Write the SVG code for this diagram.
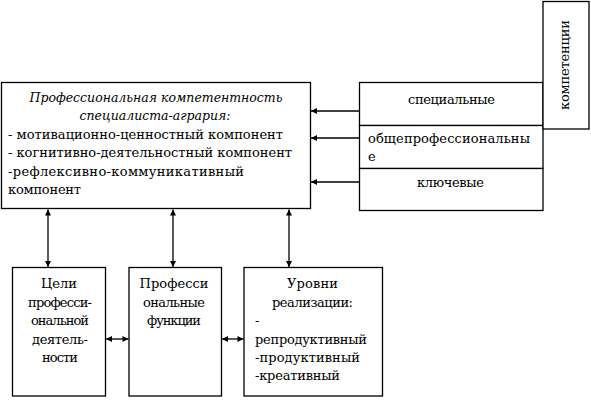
<svg xmlns="http://www.w3.org/2000/svg" width="591" height="411" viewBox="0 0 591 411">
<style>
  .b { fill: #fff; stroke: #000; stroke-width: 1.3; }
  text { font-family: "DejaVu Serif", "Liberation Serif", serif; font-size: 13px; fill: #000; }
  .i { font-style: italic; }
  .c { text-anchor: middle; }
  .ln { stroke: #000; stroke-width: 1.3; fill: none; }
</style>
<defs>
  <marker id="ah" viewBox="0 0 8 8" refX="8" refY="4" markerWidth="7" markerHeight="6" markerUnits="userSpaceOnUse" orient="auto-start-reverse">
    <path d="M0,0 L8,4 L0,8 z" fill="#000"/>
  </marker>
</defs>
<rect width="591" height="411" fill="#fff"/>

<g id="main">
  <rect class="b" x="1.5" y="82.5" width="309" height="126"/>
  <text class="i c" x="156" y="102" textLength="253" lengthAdjust="spacingAndGlyphs">Профессиональная компетентность</text>
  <text class="i c" x="155" y="120" textLength="151" lengthAdjust="spacingAndGlyphs">специалиста-агрария:</text>
  <text x="8" y="139" textLength="275" lengthAdjust="spacing">- мотивационно-ценностный компонент</text>
  <text x="8" y="157" textLength="284" lengthAdjust="spacing">- когнитивно-деятельностный компонент</text>
  <text x="8" y="176" textLength="236" lengthAdjust="spacing">-рефлексивно-коммуникативный</text>
  <text x="8" y="194" textLength="73" lengthAdjust="spacing">компонент</text>
</g>

<g id="special">
  <rect class="b" x="359.5" y="82.5" width="183.5" height="43"/>
  <text class="c" x="451.5" y="104" textLength="87" lengthAdjust="spacing">специальные</text>
</g>
<g id="general">
  <rect class="b" x="359.5" y="125.5" width="183.5" height="43"/>
  <text x="368" y="143" textLength="162" lengthAdjust="spacing">общепрофессиональны</text>
  <text x="368" y="161">е</text>
</g>
<g id="key">
  <rect class="b" x="359.5" y="168.5" width="183.5" height="42"/>
  <text class="c" x="450.5" y="187" textLength="67" lengthAdjust="spacing">ключевые</text>
</g>

<g id="competencies">
  <rect class="b" x="543" y="1.5" width="46" height="127.5"/>
  <text class="c" transform="translate(569,65) rotate(-90)" x="0" y="0" textLength="90" lengthAdjust="spacing">компетенции</text>
</g>

<g id="goals">
  <rect class="b" x="12.5" y="267.5" width="93" height="128.5"/>
  <text class="c" x="59" y="288">Цели</text>
  <text class="c" x="60" y="307" textLength="64" lengthAdjust="spacing">професси-</text>
  <text class="c" x="60" y="325" textLength="58" lengthAdjust="spacing">ональной</text>
  <text class="c" x="60" y="344" textLength="56" lengthAdjust="spacing">деятель-</text>
  <text class="c" x="60" y="362" textLength="36" lengthAdjust="spacing">ности</text>
</g>

<g id="functions">
  <rect class="b" x="129" y="267.5" width="92.5" height="128.5"/>
  <text class="c" x="174" y="288" textLength="69" lengthAdjust="spacing">Професси</text>
  <text class="c" x="174" y="307" textLength="62" lengthAdjust="spacing">ональные</text>
  <text class="c" x="174" y="325" textLength="54" lengthAdjust="spacing">функции</text>
</g>

<g id="levels">
  <rect class="b" x="244" y="267.5" width="138.5" height="128.5"/>
  <text class="c" x="312.5" y="288" textLength="51" lengthAdjust="spacing">Уровни</text>
  <text class="c" x="312.5" y="307" textLength="81" lengthAdjust="spacing">реализации:</text>
  <text x="255" y="325">-</text>
  <text x="255" y="344" textLength="112" lengthAdjust="spacing">репродуктивный</text>
  <text x="255" y="362" textLength="105" lengthAdjust="spacing">-продуктивный</text>
  <text x="255" y="380" textLength="85" lengthAdjust="spacing">-креативный</text>
</g>

<g id="connectors">
  <line class="ln" x1="359" y1="111" x2="311" y2="111" marker-end="url(#ah)"/>
  <line class="ln" x1="359" y1="138" x2="311" y2="138" marker-end="url(#ah)"/>
  <line class="ln" x1="359" y1="182" x2="311" y2="182" marker-end="url(#ah)"/>
  <line class="ln" x1="48" y1="209.5" x2="48" y2="267" marker-start="url(#ah)" marker-end="url(#ah)"/>
  <line class="ln" x1="173" y1="209.5" x2="173" y2="267" marker-start="url(#ah)" marker-end="url(#ah)"/>
  <line class="ln" x1="289" y1="209.5" x2="289" y2="267" marker-start="url(#ah)" marker-end="url(#ah)"/>
  <line class="ln" x1="106" y1="339" x2="128.5" y2="339" marker-start="url(#ah)" marker-end="url(#ah)"/>
  <line class="ln" x1="222" y1="339" x2="243.5" y2="339" marker-start="url(#ah)" marker-end="url(#ah)"/>
</g>
</svg>
